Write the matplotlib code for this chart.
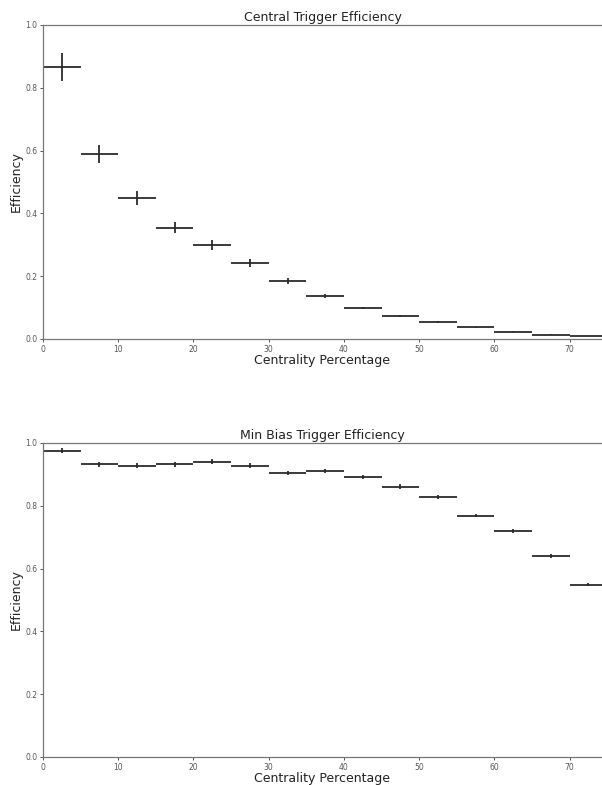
import matplotlib
matplotlib.use("Agg")
import matplotlib.pyplot as plt
import numpy as np

bin_centers = [2.5, 7.5, 12.5, 17.5, 22.5, 27.5, 32.5, 37.5, 42.5, 47.5, 52.5, 57.5, 62.5, 67.5, 72.5]
bin_halfwidth = [2.5] * 15

central_eff = [0.866, 0.589, 0.449, 0.354, 0.299, 0.242, 0.185, 0.138, 0.099, 0.073, 0.054, 0.037, 0.023, 0.014, 0.0096]
central_err = [0.044, 0.028, 0.022, 0.018, 0.015, 0.012, 0.009, 0.006, 0.004, 0.003, 0.002, 0.0015, 0.001, 0.0008, 0.0006]

minbias_eff = [0.975, 0.932, 0.928, 0.933, 0.940, 0.928, 0.905, 0.910, 0.892, 0.861, 0.828, 0.769, 0.719, 0.640, 0.549]
minbias_err = [0.008, 0.008, 0.008, 0.008, 0.008, 0.008, 0.007, 0.007, 0.007, 0.007, 0.006, 0.006, 0.006, 0.006, 0.006]

titles = ["Central Trigger Efficiency", "Min Bias Trigger Efficiency"]
yticks = [0.0, 0.2, 0.4, 0.6, 0.8, 1.0]
xticks = [0, 10, 20, 30, 40, 50, 60, 70]

fig = plt.figure(figsize=(6.02, 7.85), dpi=100)
W, H = 602, 785
axes_px = [(43, 25, 602, 339), (43, 443, 602, 757)]
datasets = [(central_eff, central_err), (minbias_eff, minbias_err)]

for (x0, y0, x1, y1), (eff, err), title in zip(axes_px, datasets, titles):
    ax = fig.add_axes([x0 / W, 1 - y1 / H, (x1 - x0) / W, (y1 - y0) / H])
    ax.errorbar(bin_centers, eff, xerr=bin_halfwidth, yerr=err, fmt='none',
                ecolor='#2b2b2b', elinewidth=1.3)
    ax.set_xlim(0, 74.3)
    ax.set_ylim(0, 1.0)
    ax.set_xticks(xticks)
    ax.set_yticks(yticks)
    ax.set_yticklabels([f"{v:.1f}" for v in yticks])
    ax.tick_params(labelsize=5.5, colors='#555555', length=2.5, width=0.7, pad=1.5)
    for s in ['top', 'bottom', 'left']:
        ax.spines[s].set_color('#777777')
        ax.spines[s].set_linewidth(0.9)
    ax.spines['right'].set_visible(False)
    ax.set_title(title, fontsize=9, color='#222222', pad=3)
    ax.set_xlabel("Centrality Percentage", fontsize=9, color='#222222', labelpad=0)
    ax.set_ylabel("Efficiency", fontsize=9, color='#222222', labelpad=1.5)

fig.savefig("out.png", dpi=100)
